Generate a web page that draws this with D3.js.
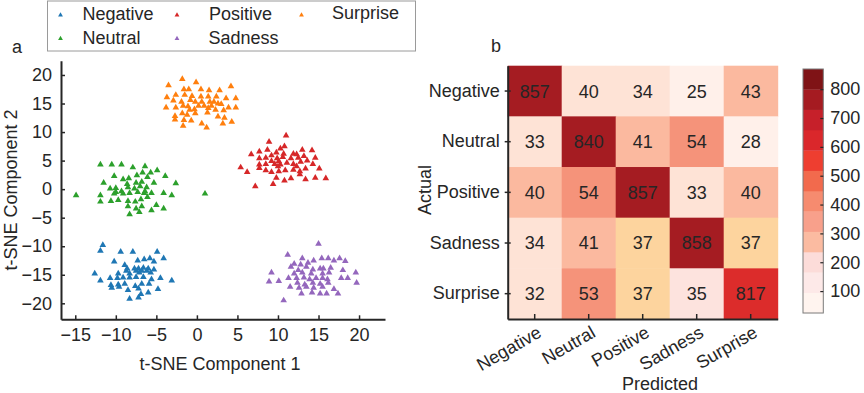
<!DOCTYPE html>
<html>
<head>
<meta charset="utf-8">
<script src="https://cdn.jsdelivr.net/npm/d3@7"></script>
<style>
  html, body { margin: 0; padding: 0; background: #fff; }
  svg { display: block; }
  text { font-family: "Liberation Sans", Arial, Helvetica, sans-serif; fill: #262626; }
</style>
</head>
<body>
<svg id="chart" width="864" height="393"></svg>
<script>
// ---------------- DATA ----------------
const categories = ["Negative", "Neutral", "Positive", "Sadness", "Surprise"];
const seriesColors = ["#1f77b4", "#2ca02c", "#d62728", "#9467bd", "#ff7f0e"];

const negativePoints = [
  [-11.6,-9.8],[-11.9,-10.8],[-9.4,-11.0],[-7.9,-11.0],[-4.9,-11.0],[-10.2,-12.7],[-7.3,-12.5],[-6.5,-12.3],
  [-5.8,-12.1],[-4.1,-12.1],[-5.3,-12.7],[-8.9,-13.3],[-8.6,-13.9],[-7.7,-13.9],[-7.2,-13.9],[-6.6,-13.8],
  [-6.0,-13.9],[-5.3,-14.1],[-12.6,-14.8],[-8.7,-14.3],[-7.5,-14.3],[-6.8,-14.3],[-6.2,-14.3],[-9.7,-14.8],
  [-8.3,-14.8],[-7.1,-14.6],[-5.7,-14.6],[-11.9,-16.0],[-10.7,-15.6],[-9.8,-15.6],[-9.1,-15.5],[-8.3,-15.5],
  [-7.5,-15.4],[-6.6,-15.4],[-5.6,-15.8],[-4.5,-15.6],[-3.1,-16.0],[-10.6,-16.8],[-9.7,-16.7],[-8.9,-16.6],
  [-7.6,-17.0],[-6.8,-16.6],[-5.9,-16.6],[-10.5,-17.3],[-9.6,-17.1],[-8.5,-17.7],[-7.2,-17.4],[-4.8,-17.5],
  [-6.0,-18.1],[-6.9,-18.4],[-8.3,-19.2],[-7.2,-19.0]
];
const neutralPoints = [
  [-14.9,-1.1],[-11.9,4.3],[-10.5,4.3],[-9.3,4.3],[-7.9,3.8],[-6.4,4.0],[-4.9,3.3],[-10.2,2.3],
  [-7.4,2.4],[-6.7,2.9],[-5.7,2.9],[-6.1,2.1],[-3.9,2.3],[-9.1,1.7],[-8.4,1.9],[-11.5,1.1],
  [-8.6,0.9],[-7.5,1.1],[-6.8,1.3],[-5.3,1.1],[-2.6,1.0],[-10.7,0.1],[-10.0,0.2],[-8.5,0.3],
  [-7.7,0.1],[-7.0,0.5],[-6.2,0.3],[-10.0,-0.5],[-9.1,-0.8],[-8.3,-0.7],[-7.3,-0.5],[-6.5,-0.7],
  [-5.6,-0.7],[-11.9,-1.1],[-10.2,-0.8],[-4.1,-0.7],[-3.1,-1.1],[1.0,-0.8],[-11.9,-2.2],[-10.6,-2.1],
  [-9.7,-1.9],[-8.5,-2.1],[-7.6,-2.2],[-6.9,-1.8],[-6.1,-1.4],[-8.5,-3.0],[-6.8,-3.0],[-7.5,-3.4],
  [-5.0,-2.8],[-5.6,-3.7],[-4.1,-3.4],[-7.1,-4.0],[-8.3,-4.4],[-6.4,-0.4],[-9.3,-0.4]
];
const positivePoints = [
  [11.0,9.4],[8.9,8.3],[10.8,7.5],[10.3,7.1],[7.7,6.6],[8.7,6.9],[9.8,6.4],[6.7,6.1],
  [9.2,5.9],[10.7,6.2],[11.9,6.2],[12.3,6.1],[13.0,6.9],[14.2,6.8],[7.7,5.4],[8.5,5.5],
  [9.9,5.4],[10.6,5.6],[11.6,5.4],[12.5,5.5],[13.2,5.8],[14.6,5.5],[10.1,4.9],[9.2,4.9],
  [8.5,4.4],[7.7,4.3],[9.6,4.4],[10.3,4.3],[11.1,4.6],[11.9,4.4],[12.8,4.8],[13.6,5.0],
  [14.3,4.4],[5.4,3.8],[6.2,3.0],[8.5,3.3],[9.2,3.0],[10.1,3.1],[10.9,3.3],[11.9,3.4],
  [12.7,3.1],[13.4,3.6],[15.1,3.6],[7.7,3.7],[9.8,2.0],[10.8,1.5],[11.6,1.9],[12.7,2.6],
  [13.4,1.7],[14.6,2.0],[15.9,1.9],[9.4,0.9],[7.2,0.5],[12.3,4.0],[10.0,4.0]
];
const sadnessPoints = [
  [15.0,-9.6],[11.2,-11.5],[13.0,-12.1],[14.4,-12.5],[15.4,-12.1],[16.2,-12.1],[16.9,-12.5],[17.6,-12.1],
  [18.3,-12.6],[12.0,-13.1],[12.8,-13.2],[13.7,-12.9],[11.6,-13.6],[12.5,-14.2],[13.5,-13.6],[14.3,-14.1],
  [15.2,-13.9],[15.6,-13.9],[16.5,-13.8],[18.0,-14.2],[19.6,-14.6],[9.2,-14.6],[12.0,-14.8],[13.0,-14.6],
  [14.1,-14.8],[15.5,-14.8],[16.3,-14.6],[8.9,-16.2],[10.1,-16.1],[11.3,-15.6],[12.3,-15.6],[13.2,-15.5],
  [13.9,-15.8],[14.7,-15.6],[15.5,-15.6],[16.1,-15.8],[17.8,-15.6],[18.6,-15.6],[19.7,-16.4],[12.4,-16.4],
  [13.3,-16.7],[14.3,-16.4],[15.2,-16.6],[16.2,-16.4],[11.5,-17.1],[12.6,-17.3],[13.5,-17.1],[14.4,-17.3],
  [15.5,-17.1],[16.9,-17.5],[12.9,-18.3],[14.2,-18.1],[15.2,-18.3],[16.0,-18.3],[17.4,-18.3],[10.7,-19.5]
];
const surprisePoints = [
  [-3.5,18.2],[-1.8,19.3],[-0.1,18.7],[-1.6,17.5],[-1.0,17.5],[0.5,17.5],[1.5,17.3],[2.8,17.3],
  [4.2,18.0],[-3.7,16.1],[-2.6,16.5],[-1.5,16.5],[-0.6,16.3],[0.5,16.2],[1.4,16.2],[2.4,16.2],
  [3.6,15.9],[4.8,15.9],[-2.9,15.5],[-1.9,15.3],[-0.8,15.6],[-0.2,15.3],[0.6,15.3],[1.6,15.3],
  [2.1,15.3],[2.6,15.0],[-3.8,14.3],[-2.6,14.3],[-1.7,14.6],[-1.1,14.5],[0.2,14.6],[0.9,14.6],
  [1.8,14.6],[3.0,14.9],[3.9,14.3],[4.8,14.3],[-0.9,13.9],[-0.3,14.0],[1.4,14.2],[2.3,13.9],
  [3.3,13.8],[-2.7,12.8],[-1.8,13.3],[-1.2,13.0],[-0.2,13.3],[1.3,13.4],[2.6,12.7],[3.4,12.5],
  [-1.6,12.1],[-0.7,12.0],[4.3,11.8],[3.2,11.5],[0.6,11.5],[-1.7,11.1],[1.2,10.8],[-2.7,12.2]
];
const clusterPoints = [negativePoints, neutralPoints, positivePoints, sadnessPoints, surprisePoints];

const scatterXTicks = [-15, -10, -5, 0, 5, 10, 15, 20];
const scatterYTicks = [-20, -15, -10, -5, 0, 5, 10, 15, 20];

const confusion = [
  [857, 40, 34, 25, 43],
  [33, 840, 41, 54, 28],
  [40, 54, 857, 33, 40],
  [34, 41, 37, 858, 37],
  [32, 53, 37, 35, 817]
];
// shade class for each cell (as rendered in the reference)
const cellShade = [
  [5, 1, 1, 0, 2],
  [1, 5, 2, 3, 0],
  [2, 3, 5, 1, 2],
  [1, 2, 4, 5, 4],
  [1, 3, 4, 7, 6]
];
const shadePalette = ["#fff0ea", "#fee3d6", "#fbb99f", "#f5937a", "#fdd49e", "#a51c22", "#dc2c2b", "#fde3de"];

const colorbarTicks = [100, 200, 300, 400, 500, 600, 700, 800];
const colorbarRange = [24, 870];
const colorbarLevels = ["#fff4ef", "#fde9e8", "#fcdcd9", "#fbbba1", "#f8a08b", "#f68b6f",
                        "#f26a4d", "#ee3e30", "#da272b", "#c6202a", "#a51b21", "#7f1316"];

// ---------------- DRAW ----------------
const svg = d3.select("#chart");
const ink = "#262626";
const FS = 18;

// ---- Panel a: scatter ----
const x = d3.scaleLinear().domain([-16.76, 23.2]).range([61, 385]);
const y = d3.scaleLinear().domain([-22.8, 22.5]).range([319.3, 60.7]);

const sym = d3.symbol().type(d3.symbolTriangle).size(19);
clusterPoints.forEach((pts, i) => {
  svg.append("g").selectAll("path").data(pts).join("path")
    .attr("d", sym)
    .attr("transform", d => `translate(${x(d[0])},${y(d[1])})`)
    .attr("fill", seriesColors[i]);
});

const axX = svg.append("g").attr("transform", `translate(0,${y.range()[0]})`)
  .call(d3.axisBottom(x).tickValues(scatterXTicks).tickSizeInner(-4).tickSizeOuter(0).tickPadding(9));
const axY = svg.append("g").attr("transform", `translate(${x.range()[0]},0)`)
  .call(d3.axisLeft(y).tickValues(scatterYTicks).tickSizeInner(-4).tickSizeOuter(0).tickPadding(9));
[axX, axY].forEach(a => {
  a.select(".domain").attr("stroke", ink).attr("stroke-width", 2);
  a.selectAll(".tick line").attr("stroke", ink).attr("stroke-width", 1.5);
  a.selectAll(".tick text").attr("font-size", FS).attr("fill", ink)
    .style("font-family", '"Liberation Sans", Arial, sans-serif');
});

svg.append("text").attr("x", 220).attr("y", 370).attr("text-anchor", "middle")
  .attr("font-size", FS).text("t-SNE Component 1");
svg.append("text").attr("transform", "translate(16.5,190) rotate(-90)").attr("text-anchor", "middle")
  .attr("font-size", FS).text("t-SNE Component 2");
svg.append("text").attr("x", 12).attr("y", 53).attr("font-size", FS).text("a");

// legend
svg.append("rect").attr("x", 47.5).attr("y", 1).attr("width", 368).attr("height", 50)
  .attr("fill", "#fff").attr("stroke", "#9a9a9a").attr("stroke-width", 1);
const legendOrder = [0, 1, 2, 3, 4]; // Negative, Neutral, Positive, Sadness, Surprise
const legendPos = [[60.5, 15, 82.5, 20], [60.5, 38.5, 82.5, 43.5], [177, 15, 209, 20], [177, 38.5, 208.5, 43.5], [301.5, 15, 332, 19]];
const legSym = d3.symbol().type(d3.symbolTriangle).size(10);
legendOrder.forEach((ci, k) => {
  const p = legendPos[k];
  svg.append("path").attr("d", legSym).attr("transform", `translate(${p[0]},${p[1]})`).attr("fill", seriesColors[ci]);
  svg.append("text").attr("x", p[2]).attr("y", p[3]).attr("font-size", FS).text(categories[ci]);
});

// ---- Panel b: confusion matrix ----
const hx = d3.scaleBand().domain(categories).range([507.7, 777.7]);
const hy = d3.scaleBand().domain(categories).range([65.7, 319]);
const shade = d3.scaleOrdinal().domain(d3.range(shadePalette.length)).range(shadePalette);

const cells = [];
confusion.forEach((row, r) => row.forEach((v, c) => cells.push({ r, c, v, s: cellShade[r][c] })));

svg.append("g").selectAll("rect").data(cells).join("rect")
  .attr("x", d => hx(categories[d.c])).attr("y", d => hy(categories[d.r]))
  .attr("width", hx.bandwidth() + 0.5).attr("height", hy.bandwidth() + 0.5)
  .attr("fill", d => shade(d.s));
svg.append("g").selectAll("text").data(cells).join("text")
  .attr("x", d => hx(categories[d.c]) + hx.bandwidth() / 2)
  .attr("y", d => hy(categories[d.r]) + hy.bandwidth() / 2)
  .attr("dy", "0.36em").attr("text-anchor", "middle").attr("font-size", FS)
  .text(d => d.v);

// axes of heatmap
const hAxL = svg.append("g").attr("transform", `translate(${hx.range()[0]},0)`)
  .call(d3.axisLeft(hy).tickSizeInner(4).tickSizeOuter(0).tickPadding(4));
const hAxB = svg.append("g").attr("transform", `translate(0,${hy.range()[1]})`)
  .call(d3.axisBottom(hx).tickSizeInner(-5).tickSizeOuter(0).tickPadding(0));
[hAxL, hAxB].forEach(a => {
  a.select(".domain").attr("stroke", ink).attr("stroke-width", 2);
  a.selectAll(".tick line").attr("stroke", ink).attr("stroke-width", 1.5);
  a.selectAll(".tick text").attr("font-size", FS).attr("fill", ink)
    .style("font-family", '"Liberation Sans", Arial, sans-serif');
});
hAxL.selectAll(".tick line").attr("x2", 3).attr("x1", -3);
hAxB.selectAll(".tick text")
  .attr("text-anchor", "end").attr("dy", 0).attr("y", 0)
  .attr("transform", "translate(8,17) rotate(-30)");

svg.append("text").attr("x", 660).attr("y", 389.5).attr("text-anchor", "middle")
  .attr("font-size", FS).text("Predicted");
svg.append("text").attr("transform", "translate(430.5,190) rotate(-90)").attr("text-anchor", "middle")
  .attr("font-size", FS).text("Actual");
svg.append("text").attr("x", 491).attr("y", 52).attr("font-size", FS).text("b");

// colorbar
const cb = d3.scaleLinear().domain(colorbarRange).range([313, 69]);
const step = (colorbarRange[1] - colorbarRange[0]) / colorbarLevels.length;
const levels = colorbarLevels.map((c, i) => ({ lo: colorbarRange[0] + i * step, hi: colorbarRange[0] + (i + 1) * step, c }));
const cbX = 803, cbW = 20.3;
svg.append("g").selectAll("rect").data(levels).join("rect")
  .attr("x", cbX).attr("y", d => cb(d.hi)).attr("width", cbW).attr("height", d => cb(d.lo) - cb(d.hi) + 0.3)
  .attr("fill", d => d.c);
svg.append("rect").attr("x", cbX).attr("y", cb.range()[1]).attr("width", cbW)
  .attr("height", cb.range()[0] - cb.range()[1]).attr("fill", "none").attr("stroke", "#7a7a7a").attr("stroke-width", 1);
const cbAx = svg.append("g").attr("transform", `translate(${cbX + cbW},0)`)
  .call(d3.axisRight(cb).tickValues(colorbarTicks).tickSizeInner(-3).tickSizeOuter(0).tickPadding(7));
cbAx.select(".domain").remove();
cbAx.selectAll(".tick line").attr("stroke", ink).attr("stroke-width", 1.2);
cbAx.selectAll(".tick text").attr("font-size", FS).attr("fill", ink)
  .style("font-family", '"Liberation Sans", Arial, sans-serif');
</script>
</body>
</html>
